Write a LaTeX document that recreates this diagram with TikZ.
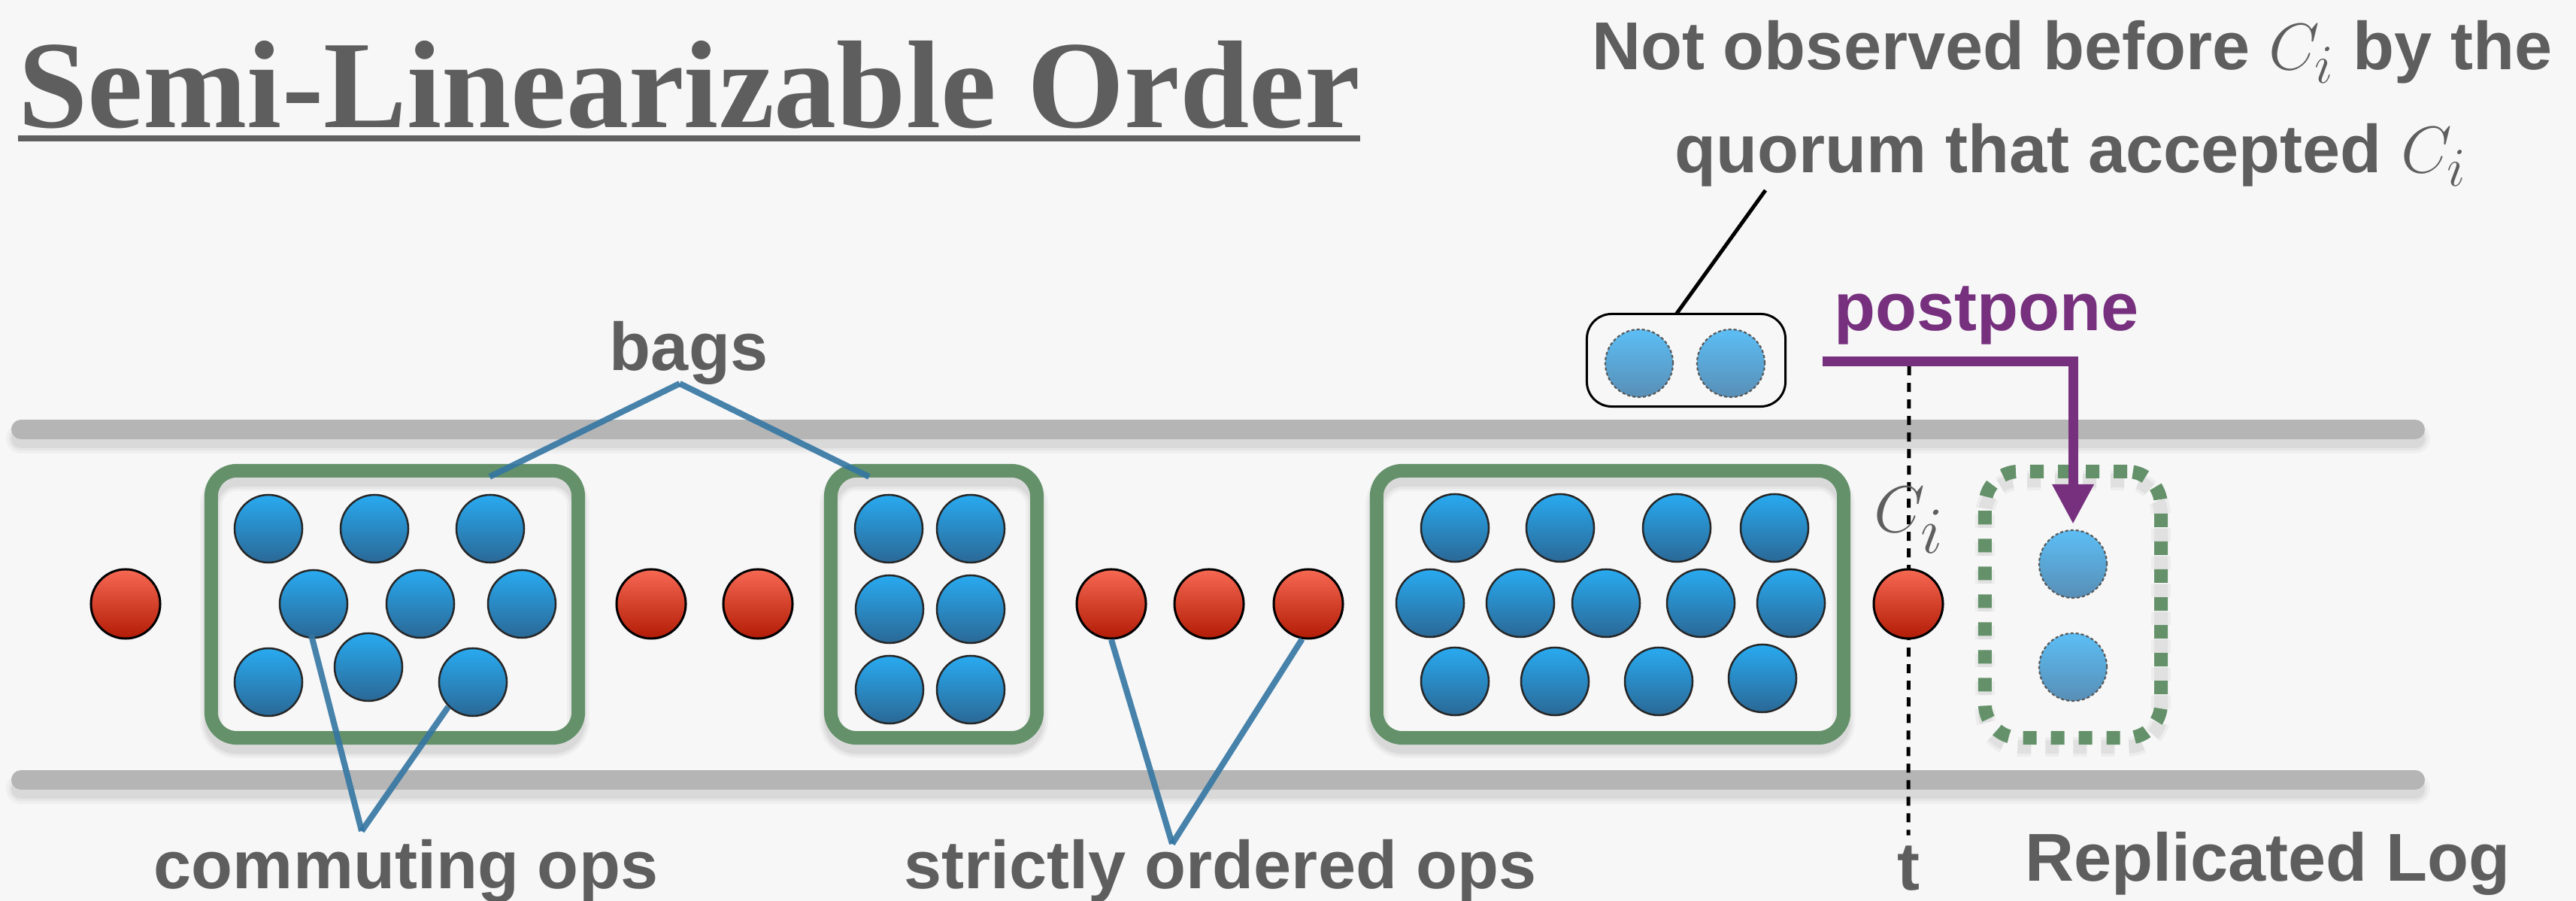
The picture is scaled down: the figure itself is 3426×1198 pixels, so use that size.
\documentclass[tikz,border=0pt]{standalone}
\usepackage{fontspec}
\setmainfont{Liberation Sans}
\newfontfamily\titlefont{Liberation Serif}
\usetikzlibrary{arrows.meta,calc}
\pgfdeclarelayer{background}
\pgfsetlayers{background,main}

\definecolor{inkgray}{RGB}{94,94,94}
\definecolor{railgray}{RGB}{181,181,181}
\definecolor{baggreen}{RGB}{100,145,106}
\definecolor{postpurple}{RGB}{118,48,126}
\definecolor{bluetop}{RGB}{41,170,240}
\definecolor{bluebot}{RGB}{42,104,150}
\definecolor{redtop}{RGB}{247,104,82}
\definecolor{redbot}{RGB}{178,28,6}
\definecolor{palebluetop}{RGB}{92,190,245}
\definecolor{palebluebot}{RGB}{88,142,182}
\definecolor{pointerblue}{RGB}{52,118,163}
\definecolor{canvas}{RGB}{247,247,247}

\newcommand\lblfont{\fontsize{25.6}{30}\selectfont\bfseries}
\newcommand\Cmark{{\fontsize{30}{30}\selectfont$C_i$}}

\begin{document}
\begin{tikzpicture}[x=0.01cm, y=-0.01cm,
  lbltext/.style={anchor=base, inner sep=0, text=inkgray, font=\lblfont},
  rail/.style={draw=railgray, line width=0.26cm, line cap=round},
  bag/.style={draw=baggreen, line width=0.18cm, rounded corners=0.34cm,
    minimum height=3.55cm, inner sep=0, outer sep=0},
  pending/.style={draw=baggreen, line width=0.18cm, rounded corners=0.45cm,
    dash pattern=on 0.18cm off 0.19cm, minimum width=2.34cm,
    minimum height=3.54cm, inner sep=0, outer sep=0},
  redop/.style={circle, inner sep=0, minimum size=0.92cm, draw=black,
    line width=0.03cm, top color=redtop, bottom color=redbot},
  blueop/.style={circle, inner sep=0, minimum size=0.90cm, draw=black!85,
    line width=0.025cm, top color=bluetop, bottom color=bluebot},
  paleop/.style={circle, inner sep=0, minimum size=0.90cm, draw=black!65,
    line width=0.022cm, dash pattern=on 0.04cm off 0.03cm,
    top color=palebluetop, bottom color=palebluebot},
  pointer/.style={draw=pointerblue, line width=0.08cm, opacity=0.9},
  quorumbox/.style={draw=black, line width=0.03cm, rounded corners=0.33cm,
    minimum width=2.64cm, minimum height=1.23cm, inner sep=0, outer sep=0},
]
\useasboundingbox (0,0) rectangle (3426,1198);

% title
\node[anchor=base west, inner sep=0, text=inkgray,
  font=\titlefont\fontsize{47.2}{50}\selectfont\bfseries] (title) at (24,170)
  {Semi-Linearizable Order};
\draw[inkgray, line width=0.08cm]
  ($(title.base west)+(0,14)$) -- ($(title.base east)+(0,14)$);

% note at the top right
\node[lbltext] (note1) at (2756,93) {Not observed before \Cmark{} by the};
\node[lbltext] (note2) at (2754,230) {quorum that accepted \Cmark};

% the two rails of the log
\coordinate (railTL) at (28,571);  \coordinate (railTR) at (3212,571);
\coordinate (railBL) at (28,1037); \coordinate (railBR) at (3212,1037);
\draw[rail] (railTL) -- (railTR);
\draw[rail] (railBL) -- (railBR);

% bags
\node[bag, minimum width=4.88cm] (bag1) at (525,803.5) {};
\node[bag, minimum width=2.74cm] (bag2) at (1242,803.5) {};
\node[bag, minimum width=6.21cm] (bag3) at (2141.5,803.5) {};
\node[pending] (pend) at (2757,804) {};

% commuting ops in the bags
\foreach \n/\x/\y in {1/357/703, 2/498/703, 3/652/703,
                      4/417/803, 5/559/803, 6/694/803,
                      7/357/907, 8/490/887, 9/629/907}
  \node[blueop] (a\n) at (\x,\y) {};
\foreach \n/\x/\y in {1/1182/703, 2/1291/703, 3/1183/810,
                      4/1291/810, 5/1183/917, 6/1291/917}
  \node[blueop] (c\n) at (\x,\y) {};
\foreach \n/\x/\y in {1/1935/702, 2/2075/702, 3/2230/702, 4/2360/702,
                      5/1902/802, 6/2022/802, 7/2136/802, 8/2262/802, 9/2382/802,
                      10/1935/906, 11/2068/906, 12/2206/906, 13/2344/902}
  \node[blueop] (d\n) at (\x,\y) {};

% time line through C_i
\node[lbltext] (tlab) at (2538,1184) {t};
\coordinate (ttop) at (2539,487);
\draw[black, line width=0.05cm, dash pattern=on 0.12cm off 0.10cm]
  (ttop) -- ($(tlab.north)+(0,-14)$);
\node[anchor=base west, inner sep=0, text=inkgray,
  font=\fontsize{33.6}{34}\selectfont] (cilab) at (2492,708) {$C_i$};

% strictly ordered ops
\foreach \n/\x in {1/167, 2/866, 3/1008, 4/1478, 5/1608, 6/1740}
  \node[redop] (r\n) at (\x,803) {};
\node[redop] (rc) at (2538,803) {};

% postponed ops
\node[paleop] (p1) at (2757,750) {};
\node[paleop] (p2) at (2757,887) {};

% ops not observed by the quorum
\node[quorumbox] (q) at (2242.5,479) {};
\node[paleop] (q1) at (2180,483) {};
\node[paleop] (q2) at (2302,483) {};
\coordinate (noteFoot) at (2348,253);
\draw[black, line width=0.05cm] ($(q.north)+(-13,0)$) -- (noteFoot);

% postpone arrow
\node[lbltext, text=postpurple] (postpone) at (2642,440) {postpone};
\coordinate (ppstart) at (2424,481);
\draw[postpurple, line width=0.13cm, line join=miter,
  -{Triangle[width=0.52cm,length=0.53cm]}]
  (ppstart) -- (ppstart -| p1) -- ($(p1.north)+(0,-7)$);

% labels with pointers
\node[lbltext] (bagslab) at (916,493) {bags};
\coordinate (bagsapex) at (904,510);
\draw[pointer] (bagsapex) -- ($(bag1.north east)+(-118,8)$);
\draw[pointer] (bagsapex) -- ($(bag2.north west)+(51,8)$);

\node[lbltext] (commlab) at (540,1182) {commuting ops};
\coordinate (commapex) at (481,1105);
\draw[pointer] (commapex) -- ($(a4.south)+(-3,-5)$);
\draw[pointer] (commapex) -- (a9.225);

\node[lbltext] (strictlab) at (1623,1182) {strictly ordered ops};
\coordinate (strictapex) at (1559,1122);
\draw[pointer] (strictapex) -- (r4.south);
\draw[pointer] (strictapex) -- (r6.-100);

\node[lbltext] (rlog) at (3016,1172) {Replicated Log};

% backdrop and soft shadows
\begin{pgfonlayer}{background}
\fill[canvas] (0,0) rectangle (3426,1198);
\foreach \r/\s in {railTL/railTR, railBL/railBR}
  \foreach \w/\o in {0.40/0.03, 0.32/0.04, 0.26/0.05}
    \draw[black, opacity=\o, line width=\w cm, line cap=round]
      ($(\r)+(0,12)$) -- ($(\s)+(0,12)$);
\foreach \b in {bag1,bag2,bag3}
  \foreach \w/\o in {0.30/0.03, 0.24/0.04, 0.18/0.05}
    \draw[black, opacity=\o, line width=\w cm, rounded corners=0.34cm]
      ($(\b.north west)+(0,12)$) rectangle ($(\b.south east)+(0,12)$);
\foreach \w/\o in {0.26/0.04, 0.18/0.05}
  \draw[black, opacity=\o, line width=\w cm, rounded corners=0.45cm,
    dash pattern=on 0.18cm off 0.19cm]
    ($(pend.north west)+(0,12)$) rectangle ($(pend.south east)+(0,12)$);
\end{pgfonlayer}
\end{tikzpicture}
\end{document}
